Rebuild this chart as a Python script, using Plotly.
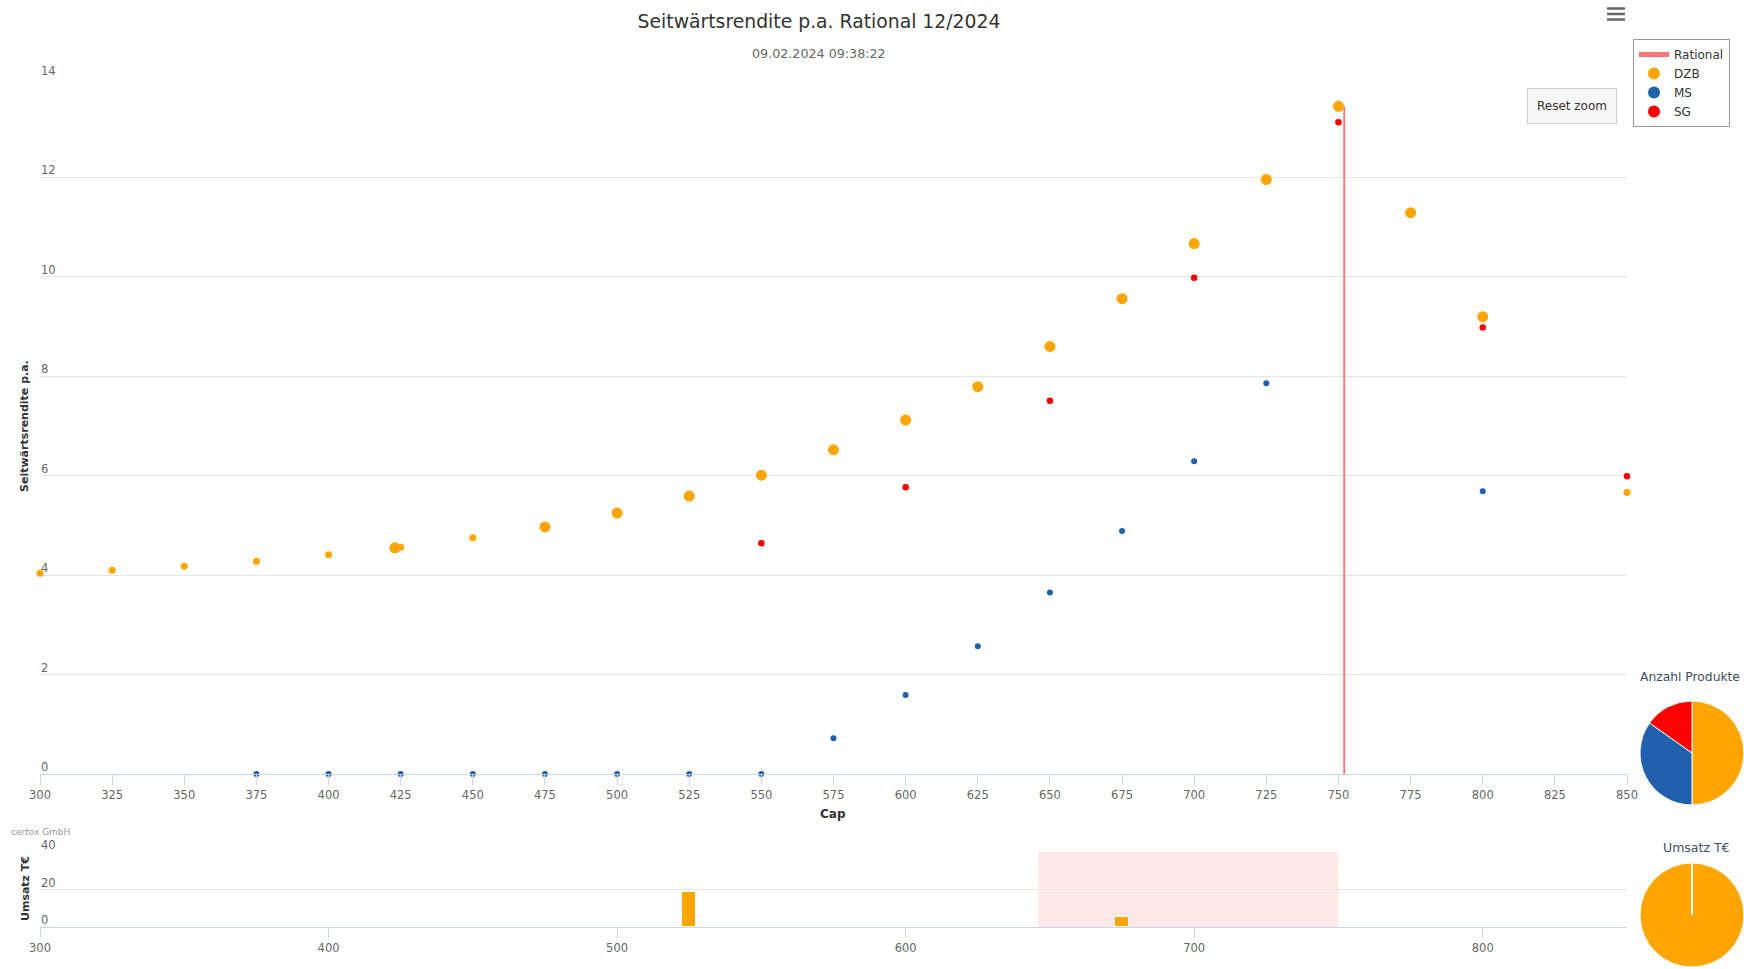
import plotly.graph_objects as go

# ---------------- data ----------------
dzb_cap = [300, 325, 350, 375, 400, 423, 425, 450, 475, 500, 525, 550, 575, 600,
           625, 650, 675, 700, 725, 750, 775, 800, 850]
dzb_yield = [4.04, 4.10, 4.18, 4.28, 4.41, 4.55, 4.56, 4.75, 4.97, 5.25, 5.59, 6.01,
             6.52, 7.12, 7.79, 8.60, 9.56, 10.67, 11.96, 13.43, 11.29, 9.20, 5.66]
dzb_large = [0, 0, 0, 0, 0, 1, 0, 0, 1, 1, 1, 1, 1, 1, 1, 1, 1, 1, 1, 1, 1, 1, 0]

ms_cap = [375, 400, 425, 450, 475, 500, 525, 550, 575, 600, 625, 650, 675, 700, 725, 800]
ms_yield = [0, 0, 0, 0, 0, 0, 0, 0, 0.72, 1.59, 2.57, 3.65, 4.89, 6.29, 7.86, 5.69]

sg_cap = [550, 600, 650, 700, 750, 800, 850]
sg_yield = [4.64, 5.77, 7.51, 9.98, 13.11, 8.98, 5.99]

rational_cap = [752, 752]
rational_yield = [0, 13.43]

umsatz_cap = [525, 675]
umsatz_value = [18.6, 5.6]
umsatz_issuer = ["DZB", "DZB"]

issuers = ["DZB", "MS", "SG"]
band_range = [646, 750]

x_ticks_main = list(range(300, 851, 25))
y_ticks_main = list(range(0, 15, 2))
x_ticks_bottom = list(range(300, 801, 100))
y_ticks_bottom = [0, 20, 40]

# ---------------- styling ----------------
W, H = 1744, 969
C_DZB, C_MS, C_SG = "#ffa500", "#2160ad", "#ff0000"
FONT = "DejaVu Sans"
GRID = "#e6e6e6"
AXIS = "#ccd6eb"


def px(x):
    return x / W


def py(y):
    return 1 - y / H


fig = go.Figure()

fig.add_trace(go.Scatter(
    x=rational_cap, y=rational_yield, mode="lines", name="Rational",
    line=dict(color="rgba(255,90,90,0.85)", width=1.8), xaxis="x", yaxis="y"))
fig.add_trace(go.Scatter(
    x=dzb_cap, y=dzb_yield, mode="markers", name="DZB", cliponaxis=False,
    marker=dict(color=C_DZB, opacity=1, size=[11 if b else 7 for b in dzb_large], line=dict(width=0)),
    xaxis="x", yaxis="y"))
fig.add_trace(go.Scatter(
    x=ms_cap, y=ms_yield, mode="markers", name="MS", cliponaxis=False,
    marker=dict(color=C_MS, opacity=1, size=6, line=dict(width=0)), xaxis="x", yaxis="y"))
fig.add_trace(go.Scatter(
    x=sg_cap, y=sg_yield, mode="markers", name="SG", cliponaxis=False,
    marker=dict(color=C_SG, opacity=1, size=6.5, line=dict(width=0)), xaxis="x", yaxis="y"))

# bottom bar chart
fig.add_trace(go.Bar(
    x=umsatz_cap, y=umsatz_value, width=5, showlegend=False,
    marker=dict(color=[{"DZB": C_DZB, "MS": C_MS, "SG": C_SG}[i] for i in umsatz_issuer],
                line=dict(color="white", width=1)),
    xaxis="x2", yaxis="y2"))

# pies
counts = [len(dzb_cap), len(ms_cap), len(sg_cap)]
umsatz_sum = [sum(v for v, i in zip(umsatz_value, umsatz_issuer) if i == k) for k in issuers]
pie_common = dict(labels=issuers, sort=False, direction="clockwise", rotation=0,
                  textinfo="none", showlegend=False,
                  marker=dict(colors=[C_DZB, C_MS, C_SG], line=dict(color="white", width=1)))
fig.add_trace(go.Pie(values=counts, domain=dict(x=[px(1640), 1], y=[py(805), py(701)]), **pie_common))
fig.add_trace(go.Pie(values=umsatz_sum, domain=dict(x=[px(1640), 1], y=[py(967), py(863)]), **pie_common))

tickfont = dict(family=FONT, size=11.5, color="#666666")

annotations = [
    dict(text="09.02.2024 09:38:22", x=px(819), y=py(53), xref="paper", yref="paper",
         xanchor="center", yanchor="middle",
         showarrow=False, font=dict(family=FONT, size=12.7, color="#666666")),
    dict(text="<b>Seitwärtsrendite p.a.</b>", x=px(25), y=py(426), xref="paper", yref="paper",
         xanchor="center", yanchor="middle",
         textangle=-90, showarrow=False, font=dict(family=FONT, size=11, color="#333333")),
    dict(text="<b>Cap</b>", x=px(833), y=py(814), xref="paper", yref="paper",
         xanchor="center", yanchor="middle",
         showarrow=False, font=dict(family=FONT, size=12, color="#333333")),
    dict(text="<b>Umsatz T€</b>", x=px(25), y=py(889), xref="paper", yref="paper",
         xanchor="center", yanchor="middle",
         textangle=-90, showarrow=False, font=dict(family=FONT, size=11, color="#333333")),
    dict(text="certox GmbH", x=px(9), y=py(832), xref="paper", yref="paper",
         xanchor="left", yanchor="middle",
         showarrow=False, font=dict(family=FONT, size=9, color="#999999")),
    dict(text="Reset zoom", x=px(1572), y=py(106), xref="paper", yref="paper",
         xanchor="center", yanchor="middle",
         showarrow=False, width=76, height=22, bgcolor="#f7f7f7", bordercolor="#cccccc",
         borderwidth=1, borderpad=6, font=dict(family=FONT, size=12, color="#333333")),
    dict(text="Anzahl Produkte", x=px(1742), y=py(677), xref="paper", yref="paper",
         xanchor="right", yanchor="middle",
         showarrow=False, font=dict(family=FONT, size=12.3, color="#3d4f63")),
    dict(text="Umsatz T€", x=px(1696), y=py(847), xref="paper", yref="paper",
         xanchor="center", yanchor="middle",
         showarrow=False, font=dict(family=FONT, size=12.5, color="#3d4f63")),
]
# y tick labels (Highcharts style: left-aligned, above the grid line)
for v in y_ticks_main:
    annotations.append(dict(text=str(v), x=px(39), xref="paper", y=v, yref="y",
                            xanchor="left", yanchor="middle", yshift=7, showarrow=False,
                            font=tickfont))
for v in y_ticks_bottom:
    annotations.append(dict(text=str(v), x=px(39), xref="paper", y=v, yref="y2",
                            xanchor="left", yanchor="middle", yshift=7, showarrow=False,
                            font=tickfont))

fig.update_layout(
    width=W, height=H,
    margin=dict(l=0, r=0, t=0, b=0, autoexpand=False),
    paper_bgcolor="white", plot_bgcolor="white",
    font=dict(family=FONT, color="#333333"),
    bargap=0,
    title=dict(text="Seitwärtsrendite p.a. Rational 12/2024", x=px(819), xanchor="center",
               y=py(21), yanchor="middle", font=dict(family=FONT, size=18.8, color="#333333")),
    xaxis=dict(domain=[px(40), px(1627)], range=[300, 850], tickvals=x_ticks_main,
               showgrid=False, zeroline=False, showline=True, linecolor=AXIS, linewidth=1,
               ticks="outside", ticklen=10, tickcolor=AXIS, tickfont=tickfont, anchor="y"),
    yaxis=dict(domain=[py(774), py(78)], range=[0, 14], tickvals=y_ticks_main, showgrid=True,
               gridcolor=GRID, zeroline=False, showline=False, ticks="", showticklabels=False,
               anchor="x"),
    xaxis2=dict(domain=[px(40), px(1627)], range=[300, 850], tickvals=x_ticks_bottom,
                showgrid=False, zeroline=False, showline=True, linecolor=AXIS, linewidth=1,
                ticks="outside", ticklen=10, tickcolor=AXIS, tickfont=tickfont, anchor="y2"),
    yaxis2=dict(domain=[py(927), py(852)], range=[0, 40], tickvals=y_ticks_bottom, showgrid=True,
                gridcolor=GRID, zeroline=False, showline=False, ticks="", showticklabels=False,
                anchor="x2"),
    legend=dict(x=px(1633), y=py(39), xanchor="left", yanchor="top", bgcolor="white",
                bordercolor="#999999", borderwidth=1, font=dict(family=FONT, size=12, color="#333333"),
                itemsizing="constant", itemwidth=30, tracegroupgap=0),
    shapes=[
        dict(type="rect", xref="x2", yref="y2 domain", x0=band_range[0], x1=band_range[1],
             y0=0, y1=1, fillcolor="rgba(255,0,0,0.09)", line=dict(width=0), layer="below"),
        dict(type="line", xref="paper", yref="paper", x0=px(1607), x1=px(1625), y0=py(8.5), y1=py(8.5),
             line=dict(color="#666666", width=2.5)),
        dict(type="line", xref="paper", yref="paper", x0=px(1607), x1=px(1625), y0=py(14), y1=py(14),
             line=dict(color="#666666", width=2.5)),
        dict(type="line", xref="paper", yref="paper", x0=px(1607), x1=px(1625), y0=py(19.5), y1=py(19.5),
             line=dict(color="#666666", width=2.5)),
    ],
    annotations=annotations,
)

fig.write_html("out.html", config={"displayModeBar": False},
               post_script="document.body.style.margin='0px';")
